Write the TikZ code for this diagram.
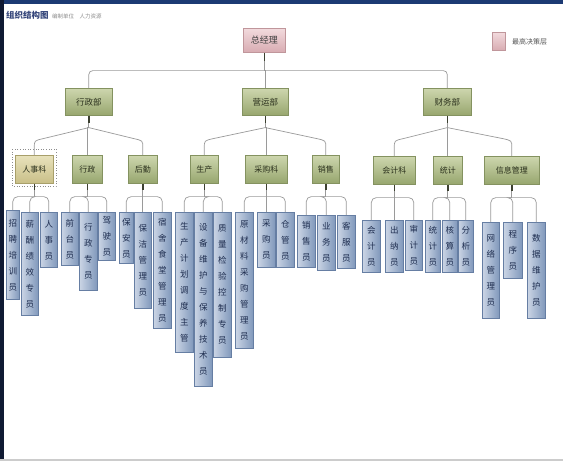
\documentclass[tikz,border=0pt]{standalone}
\usepackage{fontspec}
\newfontfamily\cjk{Noto Sans CJK SC}
\usetikzlibrary{calc,shadows}
\definecolor{navyband}{HTML}{1C3A73}
\definecolor{leftbar}{HTML}{101A33}
\definecolor{roottop}{HTML}{F2DADD}
\definecolor{rootbot}{HTML}{D8ACB2}
\definecolor{rootdraw}{HTML}{C0969B}
\definecolor{gtop}{HTML}{CDD6AE}
\definecolor{gbot}{HTML}{97A66E}
\definecolor{gdraw}{HTML}{849260}
\definecolor{ttop}{HTML}{E8E2BC}
\definecolor{tbot}{HTML}{C9BF88}
\definecolor{tdraw}{HTML}{A89F6A}
\definecolor{lleft}{HTML}{CBD5E5}
\definecolor{lright}{HTML}{8098BB}
\definecolor{ldraw}{HTML}{667EA3}
\definecolor{ltext}{HTML}{1F2E50}
\definecolor{gtext}{HTML}{2A301C}
\definecolor{conncol}{HTML}{9A9A9A}
\definecolor{stubcol}{HTML}{3C4030}
\definecolor{titlecol}{HTML}{34457A}
\makeatletter
\newcommand\vtxt[1]{\def\vt@sep{}\@tfor\vt@c:=#1\do{\vt@sep\vt@c\def\vt@sep{\\}}}
\makeatother
\newcommand\placebox[7]{\node[#1, minimum width={(#5-#3)*1pt}, minimum height={(#6-#4)*1pt}] (#2) at (#3,#4) {#7};}
\newcommand\brL[3]{\draw[conn] (#1) -- ($(#2.north |- #1)+(#3*9,11)$) .. controls ($(#2.north |- #1)+(0,13)$) .. ($(#2.north |- #1)+(0,20)$) -- (#2.north);}
\tikzset{
  box/.style={draw, inner sep=0pt, anchor=north west, line width=0.6pt,
    drop shadow={shadow xshift=0.8pt, shadow yshift=-0.8pt, opacity=0.25}},
  rootbox/.style={box, draw=rootdraw, top color=roottop, bottom color=rootbot,
    font=\cjk\fontsize{9}{10}\selectfont, text=black!75},
  gbox/.style={box, draw=gdraw, top color=gtop, bottom color=gbot,
    font=\cjk\fontsize{8.5}{10}\selectfont, text=gtext},
  tbox/.style={box, draw=tdraw, top color=ttop, bottom color=tbot,
    font=\cjk\fontsize{8}{10}\selectfont, text=gtext},
  g3box/.style={gbox, font=\cjk\fontsize{8}{10}\selectfont},
  leaf/.style={box, draw=ldraw, left color=lleft, right color=lright, text width=10pt,
    align=center, font=\cjk\fontsize{8.5}{16}\selectfont, text=ltext},
  conn/.style={draw=conncol, line width=0.7pt},
  stub/.style={draw=stubcol, line width=1.6pt},
  lconn/.style={conn, rounded corners=5pt},
}
\begin{document}
\begin{tikzpicture}[x=1pt, y=-1pt]
\useasboundingbox (0,0) rectangle (563,461);
\fill[white] (0,0) rectangle (563,461);
\begin{scope}
\clip (0,0) rectangle (563,461);
% frame
\fill[navyband] (0,0) rectangle (563,4);
\fill[leftbar] (0,0) rectangle (4,461);
\fill[black!20] (0,459) rectangle (563,461);
% title
\node[anchor=west, inner sep=0pt, font=\cjk\bfseries\fontsize{8.5}{9}\selectfont, text=titlecol] (title) at (6,15) {组织结构图};
\node[anchor=west, inner sep=0pt, font=\cjk\fontsize{5.5}{6}\selectfont, text=black!45] (sub) at (52,16) {编制单位\quad 人力资源};
% legend
\node[box, draw=rootdraw, top color=roottop, bottom color=rootbot, minimum width=13pt, minimum height=18pt] (lg) at (492,32) {};
\node[anchor=west, inner sep=0pt, font=\cjk\fontsize{7}{8}\selectfont, text=black!65] (lgt) at (512,42) {最高决策层};
% root and level 2
\placebox{rootbox}{R}{243}{28}{285}{52}{总经理}
\placebox{gbox}{N1}{65}{88}{112}{115}{行政部}
\placebox{gbox}{N2}{242}{88}{288}{115}{营运部}
\placebox{gbox}{N3}{423}{88}{471}{115}{财务部}
% level 3
\draw[black!45, dotted, line width=0.6pt] (12,149) rectangle (56,186);
\placebox{tbox}{C1}{15}{155}{53}{183}{人事科}
\placebox{g3box}{C2}{72}{155}{102}{183}{行政}
\placebox{g3box}{C3}{128}{155}{157}{183}{后勤}
\placebox{g3box}{C4}{190}{155}{218}{183}{生产}
\placebox{g3box}{C5}{245}{155}{287}{183}{采购科}
\placebox{g3box}{C6}{312}{155}{339}{183}{销售}
\placebox{g3box}{C7}{373}{156}{415}{184}{会计科}
\placebox{g3box}{C8}{433}{156}{462}{184}{统计}
\placebox{g3box}{C9}{484}{156}{539}{184}{信息管理}
% leaves
\placebox{leaf}{L1}{6}{210}{19}{299}{\vtxt{招聘培训员}}
\placebox{leaf}{L2}{21}{212}{38}{315}{\vtxt{薪酬绩效专员}}
\placebox{leaf}{L3}{40}{212}{57}{267}{\vtxt{人事员}}
\placebox{leaf}{L4}{61}{212}{78}{265}{\vtxt{前台员}}
\placebox{leaf}{L5}{79}{212}{97}{290}{\vtxt{行政专员}}
\placebox{leaf}{L6}{98}{212}{115}{260}{\vtxt{驾驶员}}
\placebox{leaf}{L7}{119}{212}{133}{263}{\vtxt{保安员}}
\placebox{leaf}{L8}{134}{212}{151}{308}{\vtxt{保洁管理员}}
\placebox{leaf}{L9}{153}{212}{171}{328}{\vtxt{宿舍食堂管理员}}
\placebox{leaf}{L10}{175}{212}{193}{352}{\vtxt{生产计划调度主管}}
\placebox{leaf}{L11}{194}{212}{212}{386}{\vtxt{设备维护与保养技术员}}
\placebox{leaf}{L12}{213}{212}{231}{357}{\vtxt{质量检验控制专员}}
\placebox{leaf}{L13}{235}{212}{253}{348}{\vtxt{原材料采购管理员}}
\placebox{leaf}{L14}{257}{212}{275}{267}{\vtxt{采购员}}
\placebox{leaf}{L15}{276}{212}{294}{267}{\vtxt{仓管员}}
\placebox{leaf}{L16}{297}{215}{315}{267}{\vtxt{销售员}}
\placebox{leaf}{L17}{317}{215}{335}{270}{\vtxt{业务员}}
\placebox{leaf}{L18}{337}{215}{355}{268}{\vtxt{客服员}}
\placebox{leaf}{L19}{362}{220}{380}{272}{\vtxt{会计员}}
\placebox{leaf}{L20}{385}{220}{403}{272}{\vtxt{出纳员}}
\placebox{leaf}{L21}{405}{220}{422}{270}{\vtxt{审计员}}
\placebox{leaf}{L22}{425}{220}{440}{272}{\vtxt{统计员}}
\placebox{leaf}{L23}{442}{220}{457}{272}{\vtxt{核算员}}
\placebox{leaf}{L24}{458}{220}{473}{272}{\vtxt{分析员}}
\placebox{leaf}{L25}{482}{222}{499}{318}{\vtxt{网络管理员}}
\placebox{leaf}{L26}{503}{222}{522}{278}{\vtxt{程序员}}
\placebox{leaf}{L27}{527}{222}{545}{318}{\vtxt{数据维护员}}
% root connectors
\draw[conn] (R.south) -- ++(0,18) coordinate (jr);
\draw[conn, rounded corners=4pt] (jr) -| (N1.north);
\draw[conn] (jr) -| (N2.north);
\draw[conn, rounded corners=4pt] (jr) -| (N3.north);
\draw[stub] (R.south) -- ++(0,8);
% level 2 -> level 3
\foreach \n in {1,2,3}{
  \draw[conn] (N\n.south) -- ++(0,12) coordinate (j\n);
}
\brL{j1}{C1}{1}
\draw[conn] (j1) -| (C2.north);
\brL{j1}{C3}{-1}
\brL{j2}{C4}{1}
\draw[conn] (j2) -| (C5.north);
\brL{j2}{C6}{-1}
\brL{j3}{C7}{1}
\draw[conn] (j3) -| (C8.north);
\brL{j3}{C9}{-1}
\foreach \n in {1,2,3}{\draw[stub] (N\n.south) -- ++(0,7);}
% level 3 -> leaves
\foreach \c/\a/\b/\d in {1/1/2/3, 2/4/5/6, 3/7/8/9, 4/10/11/12, 5/13/14/15, 6/16/17/18, 7/19/20/21, 8/22/23/24, 9/25/26/27}{
  \draw[conn] (C\c.south) -- ++(0,13) coordinate (k\c);
  \draw[lconn] (k\c) -| (L\a.north);
  \draw[lconn] (k\c) -| (L\b.north);
  \draw[lconn] (k\c) -| (L\d.north);
  \draw[stub] (C\c.south) -- ++(0,6);
}
\end{scope}
\end{tikzpicture}
\end{document}
